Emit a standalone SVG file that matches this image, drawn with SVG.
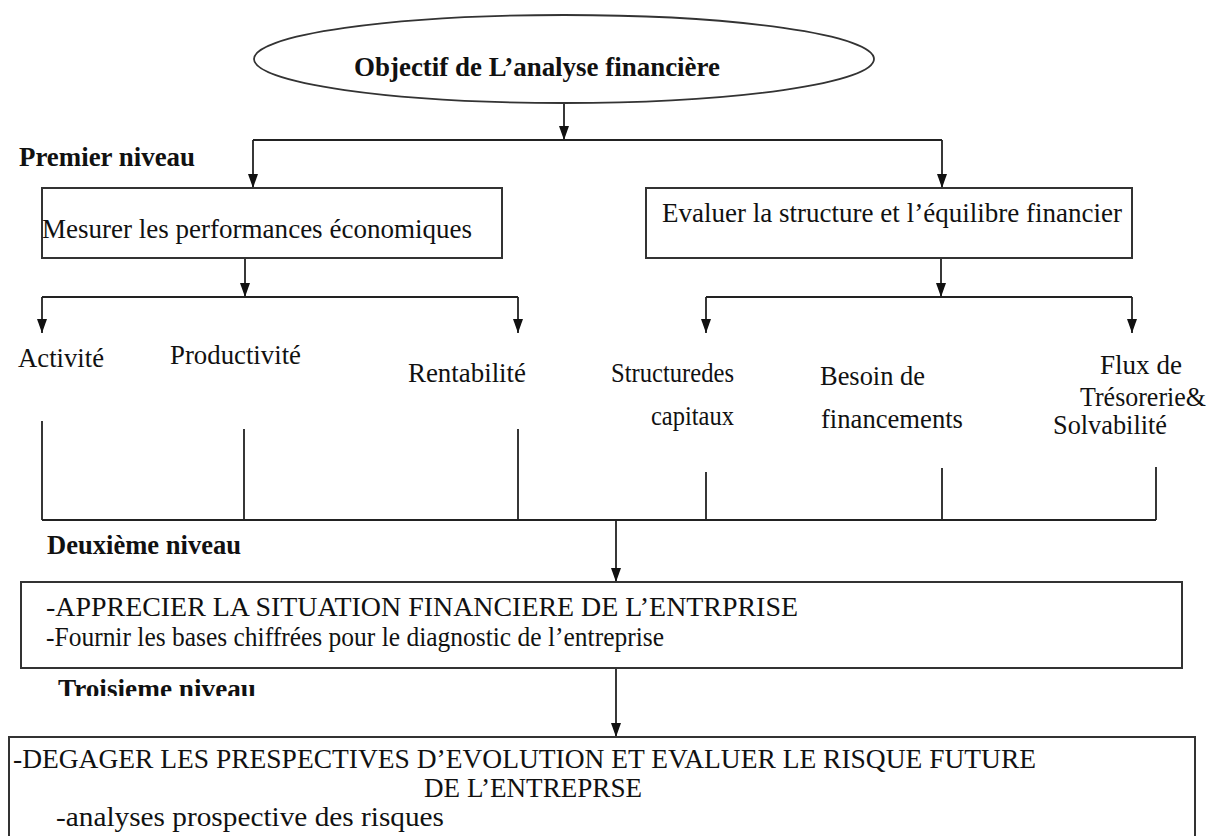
<svg xmlns="http://www.w3.org/2000/svg" width="1210" height="836" viewBox="0 0 1210 836">
<style>
text{font-family:"Liberation Serif","Times New Roman",serif;fill:#111;font-size:27px}
.b{font-weight:bold}
.box{fill:#fff;stroke:#333;stroke-width:2}
.ln{fill:none;stroke:#222;stroke-width:1.8}
.ar{marker-end:url(#ah)}
</style>
<defs>
<marker id="ah" viewBox="0 0 14 10" refX="14" refY="5" markerWidth="14" markerHeight="10" markerUnits="userSpaceOnUse" orient="auto">
<path d="M0 0 L14 5 L0 10 z" fill="#111"/>
</marker>
<clipPath id="clipT"><rect x="0" y="670" width="400" height="26"/></clipPath>
</defs>
<rect width="1210" height="836" fill="#fff"/>

<g id="labels">
<text class="b" x="19" y="166" textLength="176" lengthAdjust="spacingAndGlyphs">Premier niveau</text>
<text class="b" x="47" y="554" textLength="194" lengthAdjust="spacingAndGlyphs">Deuxième niveau</text>
<text class="b" x="58" y="698" textLength="198" lengthAdjust="spacingAndGlyphs" clip-path="url(#clipT)">Troisieme niveau</text>
</g>

<g id="connectors">
<path class="ln ar" d="M564 100 V140"/>
<path class="ln" d="M253 140 H942"/>
<path class="ln ar" d="M253 140 V188"/>
<path class="ln ar" d="M942 140 V188"/>
<path class="ln ar" d="M245 258 V297"/>
<path class="ln" d="M42 297 H518"/>
<path class="ln ar" d="M42 297 V333"/>
<path class="ln ar" d="M518 297 V333"/>
<path class="ln ar" d="M941 258 V297"/>
<path class="ln" d="M706 297 H1132"/>
<path class="ln ar" d="M706 297 V333"/>
<path class="ln ar" d="M1132 297 V333"/>
<path class="ln" d="M42 421 V520 M244 429 V520 M518 429 V520 M706 472 V520 M942 468 V520 M1156 467 V520 M42 520 H1156"/>
<path class="ln ar" d="M616 520 V582"/>
<path class="ln ar" d="M616 668 V737"/>
</g>

<g id="n-objectif">
<ellipse cx="564" cy="59" rx="310" ry="44" fill="#fff" stroke="#333" stroke-width="1.8"/>
<text class="b" x="354" y="76" textLength="366" lengthAdjust="spacingAndGlyphs">Objectif de L’analyse financière</text>
</g>

<g id="n-mesurer">
<rect class="box" x="42" y="188" width="460" height="70"/>
<text x="42" y="238" textLength="430" lengthAdjust="spacingAndGlyphs">Mesurer les performances économiques</text>
</g>

<g id="n-evaluer">
<rect class="box" x="646" y="188" width="486" height="70"/>
<text x="662" y="222" textLength="460" lengthAdjust="spacingAndGlyphs">Evaluer la structure et l’équilibre financier</text>
</g>

<g id="n-activite"><text x="18" y="367" textLength="86" lengthAdjust="spacingAndGlyphs">Activité</text></g>
<g id="n-productivite"><text x="170" y="364" textLength="131" lengthAdjust="spacingAndGlyphs">Productivité</text></g>
<g id="n-rentabilite"><text x="408" y="382" textLength="118" lengthAdjust="spacingAndGlyphs">Rentabilité</text></g>

<g id="n-structure">
<text x="611" y="382" font-size="25" textLength="123" lengthAdjust="spacingAndGlyphs">Structuredes</text>
<text x="651" y="425" font-size="25" textLength="83" lengthAdjust="spacingAndGlyphs">capitaux</text>
</g>
<g id="n-besoin">
<text x="820" y="385" textLength="105" lengthAdjust="spacingAndGlyphs">Besoin de</text>
<text x="821" y="428" textLength="142" lengthAdjust="spacingAndGlyphs">financements</text>
</g>
<g id="n-flux">
<text x="1100" y="374" textLength="82" lengthAdjust="spacingAndGlyphs">Flux de</text>
<text x="1080" y="406" textLength="126" lengthAdjust="spacingAndGlyphs">Trésorerie&amp;</text>
<text x="1053" y="434" textLength="114" lengthAdjust="spacingAndGlyphs">Solvabilité</text>
</g>

<g id="n-apprecier">
<rect class="box" x="21" y="582" width="1161" height="86"/>
<text x="46" y="616" textLength="752" lengthAdjust="spacingAndGlyphs">-APPRECIER LA SITUATION FINANCIERE DE L’ENTRPRISE</text>
<text x="46" y="646" font-size="24" textLength="618" lengthAdjust="spacingAndGlyphs">-Fournir les bases chiffrées pour le diagnostic de l’entreprise</text>
</g>

<g id="n-degager">
<path class="box" d="M9 840 V737 H1195 V840"/>
<text x="13" y="768" textLength="1023" lengthAdjust="spacingAndGlyphs">-DEGAGER LES PRESPECTIVES D’EVOLUTION ET EVALUER LE RISQUE FUTURE</text>
<text x="424" y="797" textLength="218" lengthAdjust="spacingAndGlyphs">DE L’ENTREPRSE</text>
<text x="56" y="826" font-size="25" textLength="388" lengthAdjust="spacingAndGlyphs">-analyses prospective des risques</text>
</g>
</svg>
